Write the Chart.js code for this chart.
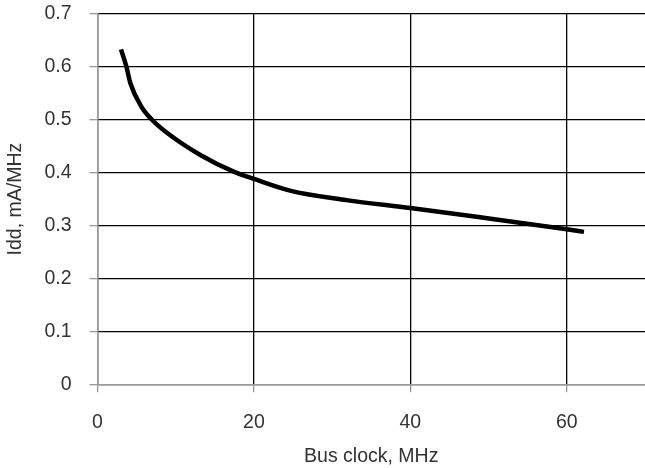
<!DOCTYPE html>
<html><head><meta charset="utf-8">
<script src="https://cdn.jsdelivr.net/npm/chart.js@4"></script>
<style>html,body{margin:0;padding:0;background:#fff}#wrap{width:645px;height:468px}</style>
</head><body><div id="wrap"><canvas id="c"></canvas></div>
<script>
const busClock = [3.0, 3.7, 4.2, 5.6, 6.9, 9.0, 13.2, 17.4, 20.0, 24.6, 31.8, 40.0, 48.7, 60.0, 62.2];
const idd      = [0.633, 0.600, 0.569, 0.525, 0.501, 0.474, 0.433, 0.402, 0.388, 0.366, 0.348, 0.333, 0.316, 0.293, 0.288];
const xTicks = [0, 20, 40, 60];
const yTicks = [0, 0.1, 0.2, 0.3, 0.4, 0.5, 0.6, 0.7];
const xTitle = 'Bus clock, MHz';
const yTitle = 'Idd, mA/MHz';

const font = {family: '"Liberation Sans", Arial, sans-serif', size: 19.5, lineHeight: 1.15};
new Chart(document.getElementById('c'), {
  type: 'line',
  data: { datasets: [{
    data: busClock.map((x, i) => ({x, y: idd[i]})),
    borderColor: '#000', borderWidth: 4.5, pointRadius: 0,
    cubicInterpolationMode: 'monotone', fill: false
  }]},
  options: {
    responsive: true, maintainAspectRatio: false, animation: false,
    layout: {padding: {top: 14, right: 0, left: 4, bottom: 0}},
    plugins: {legend: {display: false}, tooltip: {enabled: false}},
    scales: {
      x: {
        type: 'linear', min: 0, max: 70,
        afterBuildTicks: s => { s.ticks = xTicks.map(v => ({value: v})); },
        afterFit: s => { s.paddingLeft = 0; s.paddingRight = 0; },
        grid: {color: '#000', lineWidth: 1.3, tickLength: 8, tickColor: '#999', drawTicks: true},
        border: {color: '#999', width: 1.3},
        ticks: {font, color: '#333', padding: 19},
        title: {display: true, text: xTitle, font, color: '#333', padding: {top: -7, bottom: 0}}
      },
      y: {
        min: 0, max: 0.7,
        afterBuildTicks: s => { s.ticks = yTicks.map(v => ({value: v})); },
        afterFit: s => { s.paddingTop = 0; s.paddingBottom = 0; },
        grid: {color: '#000', lineWidth: 1.3, tickLength: 8, tickColor: '#999'},
        border: {color: '#999', width: 1.3},
        ticks: {font, color: '#333', padding: 18, callback: v => String(v)},
        title: {display: true, text: yTitle, font, color: '#333', padding: {top: 0, bottom: 0}}
      }
    }
  }
});
</script></body></html>
